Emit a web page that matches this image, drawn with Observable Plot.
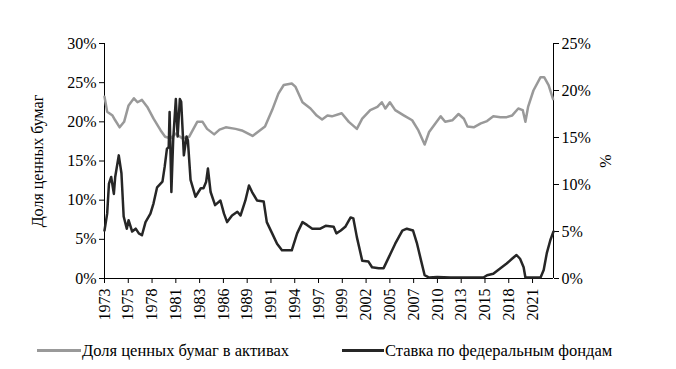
<!DOCTYPE html>
<html>
<head>
<meta charset="utf-8">
<script src="https://cdn.jsdelivr.net/npm/d3@7"></script>
<script src="https://cdn.jsdelivr.net/npm/@observablehq/plot@0.6"></script>
<style>
  body { margin: 0; background: #fff; }
  #wrap { position: relative; width: 676px; height: 369px; font-family: "Liberation Serif", "Times New Roman", Times, "DejaVu Serif", serif; }
  #wrap svg, #wrap svg text { font-family: "Liberation Serif", "Times New Roman", Times, "DejaVu Serif", serif !important; }
  .leg { position: absolute; top: 340px; font-size: 16.5px; color: #000; white-space: nowrap; line-height: 22px; }
  .sw { position: absolute; height: 3px; top: 349px; }
</style>
</head>
<body>
<div id="wrap"></div>
<script>
// Share of securities in assets (left axis, %)
const shareYears = [1973.0,1973.3,1973.9,1974.2,1974.7,1975.2,1975.7,1976.3,1976.7,1977.2,1977.8,1978.5,1979.3,1979.8,1980.4,1981.0,1981.7,1982.5,1983.4,1984.0,1984.5,1985.3,1985.9,1986.6,1987.7,1988.4,1989.6,1990.3,1991.0,1991.8,1992.5,1993.1,1994.0,1994.4,1995.2,1996.1,1996.8,1997.4,1998.0,1998.5,1999.6,2000.4,2001.3,2001.9,2002.8,2003.6,2004.1,2004.5,2005.0,2005.6,2006.6,2007.5,2008.2,2008.9,2009.4,2010.1,2010.7,2011.2,2012.0,2012.7,2013.3,2013.7,2014.4,2015.2,2015.9,2016.6,2017.4,2018.1,2018.7,2019.4,2019.9,2020.2,2020.5,2021.1,2021.9,2022.3,2022.8,2023.3];
const shareValues = [23.2,21.3,20.8,20.2,19.3,20.0,22.1,23.0,22.5,22.8,21.9,20.4,18.9,18.1,17.9,18.5,17.9,18.1,20.0,20.0,19.1,18.4,19.0,19.3,19.1,18.9,18.2,18.8,19.4,21.5,23.6,24.7,24.9,24.5,22.5,21.7,20.8,20.3,20.8,20.7,21.1,20.0,19.1,20.4,21.5,21.9,22.5,21.7,22.5,21.5,20.8,20.2,18.9,17.1,18.7,19.8,20.7,20.0,20.2,21.0,20.4,19.4,19.3,19.8,20.1,20.7,20.6,20.6,20.8,21.7,21.5,20.0,21.9,24.0,25.7,25.7,24.7,22.9];

// Federal funds rate (right axis, %)
const rateYears = [1973.0,1973.3,1973.5,1973.75,1974.05,1974.2,1974.6,1974.9,1975.15,1975.5,1975.7,1976.1,1976.5,1976.85,1977.2,1977.6,1978.15,1978.5,1978.9,1979.5,1979.75,1980.0,1980.2,1980.3,1980.5,1980.7,1981.0,1981.2,1981.45,1981.6,1981.9,1982.2,1982.35,1982.65,1983.2,1983.8,1984.1,1984.4,1984.6,1984.9,1985.4,1986.0,1986.4,1986.75,1987.3,1987.9,1988.25,1988.8,1989.2,1989.55,1990.1,1990.85,1991.2,1991.8,1992.35,1992.9,1994.0,1994.6,1995.2,1995.7,1996.3,1997.2,1997.8,1998.7,1999.0,1999.5,2000.0,2000.6,2000.9,2001.3,2001.9,2002.6,2003.0,2003.75,2004.3,2004.9,2005.6,2006.4,2006.9,2007.6,2008.05,2008.5,2008.9,2009.4,2010.3,2011.8,2015.5,2015.9,2016.6,2017.4,2018.1,2018.7,2019.2,2019.6,2020.0,2020.2,2021.9,2022.25,2022.6,2023.0,2023.35];
const rateValues = [5.1,6.9,10.1,10.8,9.0,10.8,13.1,11.2,6.6,5.3,6.2,5.0,5.3,4.8,4.6,6.0,6.9,8.0,9.7,10.3,11.9,13.8,14.0,17.7,9.2,14.7,19.1,15.1,19.1,18.8,13.1,15.1,14.7,10.5,8.7,9.6,9.6,10.3,11.7,9.2,7.8,8.3,6.9,6.0,6.7,7.1,6.7,8.3,9.9,9.2,8.3,8.2,6.0,4.8,3.7,3.0,3.0,4.8,6.0,5.7,5.3,5.3,5.6,5.5,4.8,5.1,5.5,6.5,6.4,4.4,1.9,1.8,1.2,1.1,1.1,2.3,3.7,5.1,5.3,5.1,3.7,1.9,0.35,0.1,0.15,0.1,0.1,0.35,0.5,1.1,1.6,2.1,2.5,2.1,1.2,0.1,0.1,0.9,2.7,4.1,5.0];

const xLabels = ["1973","1975","1978","1981","1983","1986","1989","1991","1994","1997","1999","2002","2005","2007","2010","2013","2015","2018","2021"];
const leftTicks = [0,5,10,15,20,25,30];
const rightTicks = [0,5,10,15,20,25];
const seriesNames = ["Доля ценных бумаг в активах", "Ставка по федеральным фондам"];
const leftTitle = "Доля ценных бумаг";
const rightTitle = "%";

const xStart = 1973, xEnd = 2023.35, step = 32/12;
const ratio = 30/25;
const tickPos = xLabels.map((_, i) => xStart + i*step);

const shareData = shareYears.map((x, i) => ({x, v: shareValues[i]}));
const rateData = rateYears.map((x, i) => ({x, v: rateValues[i] * ratio}));

const FONT = '"Liberation Serif", "Times New Roman", Times, "DejaVu Serif", serif';

const chart = Plot.plot({
  width: 676,
  height: 336,
  marginLeft: 104,
  marginRight: 123,
  marginTop: 43,
  marginBottom: 58,
  style: {fontFamily: FONT, fontSize: "16px", color: "#000", background: "#fff"},
  x: {domain: [xStart, xEnd]},
  y: {domain: [0, 30]},
  marks: [
    Plot.axisY({anchor: "left", ticks: leftTicks, tickFormat: d => d + "%", tickSize: 5, tickPadding: 3, label: null, fontSize: 16}),
    Plot.axisY({anchor: "right", ticks: rightTicks.map(d => d*ratio), tickFormat: d => Math.round(d/ratio) + "%", tickSize: 5, tickPadding: 3, label: null, fontSize: 16}),
    Plot.axisX({ticks: tickPos, tickFormat: d => xLabels[Math.round((d - xStart)/step)], tickRotate: -90, tickSize: 5, tickPadding: 5, label: null, fontSize: 16}),
    Plot.ruleX([xStart, xEnd], {stroke: "#000", strokeWidth: 1}),
    Plot.ruleY([0], {stroke: "#000", strokeWidth: 1}),
    Plot.line(shareData, {x: "x", y: "v", stroke: "#999999", strokeWidth: 2.5, strokeLinejoin: "round"}),
    Plot.line(rateData, {x: "x", y: "v", stroke: "#262626", strokeWidth: 2.5, strokeLinejoin: "round"}),
    Plot.text([leftTitle], {frameAnchor: "left", textAnchor: "middle", dx: -67, rotate: -90, fontSize: 16}),
    Plot.text([rightTitle], {frameAnchor: "right", textAnchor: "middle", dx: 52, rotate: -90, fontSize: 16})
  ]
});

const wrap = document.getElementById("wrap");
wrap.appendChild(chart);

const sw1 = document.createElement("div");
sw1.className = "sw"; sw1.style.left = "37px"; sw1.style.width = "44px"; sw1.style.background = "#999999";
const lb1 = document.createElement("div");
lb1.className = "leg"; lb1.style.left = "82px"; lb1.textContent = seriesNames[0];
const sw2 = document.createElement("div");
sw2.className = "sw"; sw2.style.left = "342px"; sw2.style.width = "42px"; sw2.style.background = "#262626";
const lb2 = document.createElement("div");
lb2.className = "leg"; lb2.style.left = "385px"; lb2.textContent = seriesNames[1];
[sw1, lb1, sw2, lb2].forEach(el => wrap.appendChild(el));
</script>
</body>
</html>
